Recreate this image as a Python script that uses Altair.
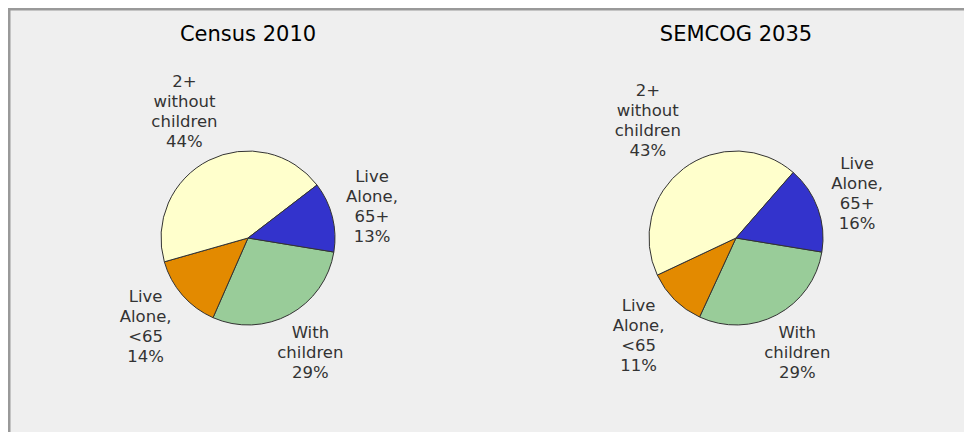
import math
import altair as alt
import pandas as pd

periods = ["Census 2010", "SEMCOG 2035"]
categories = ["With children", "Live Alone, <65", "2+ without children", "Live Alone, 65+"]
label_lines = ["With\nchildren", "Live\nAlone,\n<65", "2+\nwithout\nchildren", "Live\nAlone,\n65+"]
census_2010 = [29, 14, 44, 13]
semcog_2035 = [29, 11, 43, 16]
colors = ["#99CC99", "#E38A00", "#FFFFCC", "#3333CC"]

rows = []
for p, vals in zip(periods, [census_2010, semcog_2035]):
    for i, (c, l, v) in enumerate(zip(categories, label_lines, vals)):
        text = f"{l}\n{v}%"
        rows.append({"period": p, "category": c, "idx": i, "value": v,
                     "label": text, "nlines": text.count("\n") + 1,
                     "maxlen": max(len(s) for s in text.split("\n"))})
df = pd.DataFrame(rows)

LINE_H = 20
PIE_R = 87
LABEL_GAP = 100          # distance from pie centre to nearest edge of label block
START = math.radians(99.3)
theta_scale = alt.Scale(domain=[0, 1], range=[START, START + 2 * math.pi])
x_enc = alt.X("period:N",
              scale=alt.Scale(type="point", domain=periods, range=[240, 728], padding=0),
              axis=None)

base = (
    alt.Chart(df)
    .transform_window(cum="sum(value)", groupby=["period"],
                      sort=[alt.SortField("idx", order="ascending")], frame=[None, 0])
    .transform_joinaggregate(total="sum(value)", groupby=["period"])
    .transform_calculate(
        f0="(datum.cum - datum.value) / datum.total",
        f1="datum.cum / datum.total",
        fm="(datum.cum - datum.value / 2) / datum.total",
    )
    .transform_calculate(ang=f"{START} + 2 * PI * datum.fm")
    .transform_calculate(
        lr=(f"{LABEL_GAP} + min(datum.maxlen * 4.5 / abs(sin(datum.ang)), "
            f"(datum.nlines * {LINE_H / 2} - 3) / abs(cos(datum.ang)))")
    )
)

arcs = base.mark_arc(radius=PIE_R, stroke="#333333", strokeWidth=1).encode(
    x=x_enc,
    y=alt.value(230),
    theta=alt.Theta("f0:Q", scale=theta_scale, stack=False),
    theta2="f1:Q",
    color=alt.Color("category:N", scale=alt.Scale(domain=categories, range=colors), legend=None),
)

label_layers = []
for n in sorted(df["nlines"].unique()):
    label_layers.append(
        base.transform_filter(f"datum.nlines == {int(n)}").mark_text(
            fontSize=16.5, lineHeight=LINE_H, lineBreak="\n", font="DejaVu Sans",
            color="#333333", align="center", baseline="middle",
            dy=-(int(n) - 1) * LINE_H / 2,
        ).encode(
            x=x_enc,
            y=alt.value(230),
            theta=alt.Theta("fm:Q", scale=theta_scale, stack=False),
            radius=alt.Radius("lr:Q", scale=None),
            text="label:N",
        )
    )

titles = alt.Chart(pd.DataFrame({"period": periods})).mark_text(
    fontSize=21, font="DejaVu Sans", color="#000000", align="center", baseline="alphabetic"
).encode(x=x_enc, y=alt.value(33), text="period:N")

frame_df = pd.DataFrame({"a": [0]})
border_top = alt.Chart(frame_df).mark_rule(color="#999999", strokeWidth=2.5).encode(
    x=alt.value(0), x2=alt.value(956), y=alt.value(1.25))
border_left = alt.Chart(frame_df).mark_rule(color="#999999", strokeWidth=2.5).encode(
    x=alt.value(1.25), y=alt.value(0), y2=alt.value(424))

chart = (
    alt.layer(border_top, border_left, arcs, *label_layers, titles)
    .properties(width=956, height=424, autosize=alt.AutoSizeParams(type="none"),
                padding=0, background="#efefef")
    .configure_view(strokeWidth=0)
)

chart.save("out.html", embed_options={"renderer": "svg", "actions": False})
